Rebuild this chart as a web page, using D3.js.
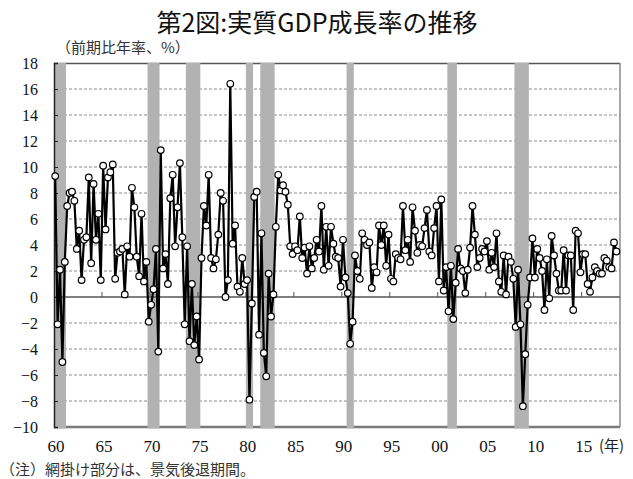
<!DOCTYPE html>
<html><head><meta charset="utf-8">
<script src="https://cdn.jsdelivr.net/npm/d3@7/dist/d3.min.js"></script>
<style>body{margin:0;background:#fff}svg{display:block}</style>
</head><body>
<svg id="chart" width="633" height="479"></svg>
<script>
// ---- data ----
const startYear = 1960;
const endYear = 2018;            // axis runs through 2018Q4
const growth = [
  9.3,-2.1,2.1,-5.0,   2.7,7.0,8.0,8.1,   7.4,3.7,5.1,1.3,   4.4,4.6,9.2,2.6,
  8.7,4.4,6.4,1.3,     10.1,5.2,9.2,9.6,  10.2,1.4,3.4,3.5,  3.7,0.2,3.9,3.1,
  8.4,6.9,3.1,1.6,     6.4,1.2,2.7,-1.9,  -0.6,0.6,3.7,-4.2, 11.3,2.2,3.3,1.0,
  7.6,9.4,3.9,6.9,     10.3,4.6,-2.1,3.9, -3.4,1.0,-3.7,-1.5,-4.8,3.0,7.0,5.5,
  9.4,3.0,2.2,2.9,     4.8,8.0,7.4,0.0,   1.3,16.4,4.1,5.5,  0.8,0.4,3.0,1.0,
  1.3,-7.9,-0.5,7.7,   8.1,-2.9,4.9,-4.3, -6.1,1.8,-1.5,0.2, 5.4,9.4,8.2,8.6,
  8.1,7.1,3.9,3.3,     3.9,3.6,6.2,3.0,   3.8,1.8,3.9,2.2,   3.0,4.4,3.5,7.0,
  2.1,5.4,2.4,5.4,     4.1,3.1,3.0,0.8,   4.4,1.5,0.3,-3.6,  -1.9,3.2,2.0,1.4,
  4.9,4.4,4.0,4.2,     0.7,2.3,1.9,5.5,   4.0,5.5,2.4,4.8,   1.4,1.2,3.3,3.0,
  2.9,7.0,3.6,4.4,     2.7,6.9,5.1,3.4,   4.0,3.9,5.3,6.7,   3.5,3.2,5.3,7.0,
  1.2,7.5,0.5,2.3,     -1.1,2.4,-1.7,1.1, 3.7,2.2,2.0,0.3,   2.1,3.8,7.0,4.8,
  2.3,3.0,3.7,3.5,     4.3,2.1,3.4,2.3,   4.9,1.2,0.4,3.2,   0.2,3.1,2.7,1.4,
  -2.3,2.1,-2.1,-8.4,  -4.4,-0.6,1.5,4.5, 1.5,3.7,3.0,2.0,   -1.0,2.9,-0.1,4.7,
  3.2,1.8,0.5,0.5,     3.6,0.5,3.2,3.2,   -1.0,5.1,4.9,1.9,  3.3,3.3,1.0,0.4,
  1.5,2.3,2.0,1.8,     1.8,3.0,2.8,2.3,   2.2,4.2,3.5
];
const xTickYears  = [1960,1965,1970,1975,1980,1985,1990,1995,2000,2005,2010,2015];
const xTickLabels = ["60","65","70","75","80","85","90","95","00","05","10","15"];
const yTicks = [-10,-8,-6,-4,-2,0,2,4,6,8,10,12,14,16,18];
const recessions = [
  ["1960Q1","1961Q1"],["1969Q4","1970Q4"],["1973Q4","1975Q1"],["1980Q1","1980Q3"],
  ["1981Q3","1982Q4"],["1990Q3","1991Q1"],["2001Q1","2001Q4"],["2008Q1","2009Q2"]
];
const titleText = "第2図:実質GDP成長率の推移";
const unitText = "（前期比年率、%）";
const yearText = "(年)";
const noteText = "（注）網掛け部分は、景気後退期間。";

// ---- build ----
const quarters = [];
for (let y = startYear; y <= endYear; y++) for (let q = 1; q <= 4; q++) quarters.push(y + "Q" + q);
const series = growth.map((v, i) => ({q: quarters[i], v}));

const L = 54, R = 620, T = 63, B = 427;
const svg = d3.select("#chart");
const x = d3.scaleBand().domain(quarters).range([L, R]).padding(0);
const y = d3.scaleLinear().domain([-10, 18]).range([B, T]);
const cx = q => x(q) + x.bandwidth() / 2;

const serif = "'Liberation Serif','DejaVu Serif',serif";
const jp = "'Noto Sans CJK JP','Noto Sans',sans-serif";

// gridlines
svg.append("g").selectAll("line").data(yTicks.filter(t => t !== 0 && t !== 18 && t !== -10))
  .join("line").attr("x1", L).attr("x2", R).attr("y1", d => y(d)).attr("y2", d => y(d))
  .attr("stroke", "#8a8a8a").attr("stroke-width", 1).attr("stroke-dasharray", "3,2");

// plot border
svg.append("line").attr("x1", L).attr("x2", R).attr("y1", T + 0.5).attr("y2", T + 0.5)
  .attr("stroke", "#555").attr("stroke-width", 1.5);
svg.append("line").attr("x1", L).attr("x2", R).attr("y1", B).attr("y2", B)
  .attr("stroke", "#7a7a7a").attr("stroke-width", 2.5);
svg.append("line").attr("x1", R).attr("x2", R).attr("y1", T).attr("y2", B)
  .attr("stroke", "#8a8a8a").attr("stroke-width", 1.5);

// recession shading
svg.append("g").selectAll("rect").data(recessions).join("rect")
  .attr("x", d => x(d[0])).attr("y", T)
  .attr("width", d => x(d[1]) + x.bandwidth() - x(d[0]))
  .attr("height", B - T + 1.5)
  .attr("fill", "#b2b2b2");

// zero line + x ticks
svg.append("line").attr("x1", L).attr("x2", R).attr("y1", y(0)).attr("y2", y(0))
  .attr("stroke", "#555").attr("stroke-width", 1.5);
svg.append("g").selectAll("line").data(xTickYears.slice(1)).join("line")
  .attr("x1", d => x(d + "Q1")).attr("x2", d => x(d + "Q1"))
  .attr("y1", y(0) - 5).attr("y2", y(0)).attr("stroke", "#555").attr("stroke-width", 1);

// left axis
const yAxis = d3.axisLeft(y).tickValues(yTicks).tickSize(-4).tickPadding(16).tickFormat(d3.format("d"));
const ya = svg.append("g").attr("transform", `translate(${L},0)`).call(yAxis);
ya.select(".domain").attr("stroke", "#222").attr("stroke-width", 1.5);
ya.selectAll(".tick line").attr("stroke", "#222");
ya.selectAll("text").attr("font-family", serif).attr("font-size", 16).attr("fill", "#111");

// x labels
svg.append("g").selectAll("text").data(xTickYears).join("text")
  .attr("x", (d) => x(d + "Q1") + 2).attr("y", 452)
  .attr("text-anchor", "middle").attr("font-family", serif).attr("font-size", 17).attr("fill", "#111")
  .text((d, i) => xTickLabels[i]);
svg.append("text").attr("x", 599).attr("y", 451).attr("font-family", jp).attr("font-size", 15)
  .attr("fill", "#222").text(yearText);

// line + markers
svg.append("path").datum(series)
  .attr("fill", "none").attr("stroke", "#000").attr("stroke-width", 2.2).attr("stroke-linejoin", "round")
  .attr("d", d3.line().x(d => cx(d.q)).y(d => y(d.v)));
svg.append("g").selectAll("circle").data(series).join("circle")
  .attr("cx", d => cx(d.q)).attr("cy", d => y(d.v)).attr("r", 3.3)
  .attr("fill", "#fff").attr("stroke", "#000").attr("stroke-width", 1.2);

// texts
svg.append("text").attr("x", 317).attr("y", 32).attr("text-anchor", "middle")
  .attr("font-family", jp).attr("font-size", 25).attr("font-weight", 400).attr("fill", "#111").text(titleText);
svg.append("text").attr("x", 56).attr("y", 53).attr("font-family", jp).attr("font-size", 15)
  .attr("fill", "#333").text(unitText);
svg.append("text").attr("x", 0).attr("y", 475).attr("font-family", jp).attr("font-size", 15)
  .attr("fill", "#333").text(noteText);
</script>
</body></html>
